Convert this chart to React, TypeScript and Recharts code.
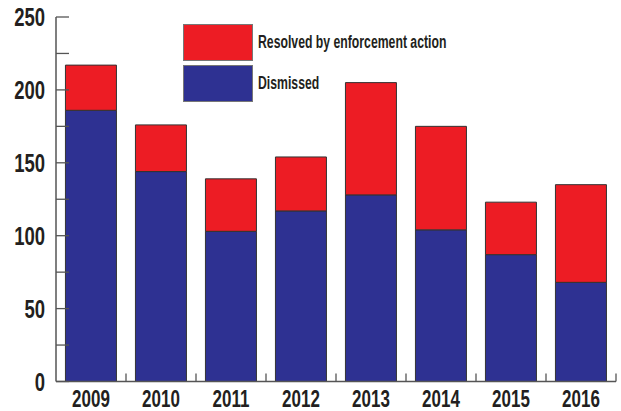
import React from 'react';
import { BarChart, Bar, XAxis, YAxis } from 'recharts';

const YEARS = ['2009', '2010', '2011', '2012', '2013', '2014', '2015', '2016'];
const DISMISSED = [186, 144, 103, 117, 128, 104, 87, 68];
const RESOLVED = [31, 32, 36, 37, 77, 71, 36, 67];
const Y_TICKS = [0, 25, 50, 75, 100, 125, 150, 175, 200, 225, 250];
const LABELED_STEP = 50;
const LEGEND_ITEMS = [
  { key: 'resolved', label: 'Resolved by enforcement action' },
  { key: 'dismissed', label: 'Dismissed' },
];

const RED = '#ed1c24';
const BLUE = '#2e3192';
const AXIS = '#555555';
const TEXT = '#231f20';
const FONT = '"Liberation Sans", Arial, sans-serif';
const SQUEEZE = 0.74;

const W = 621;
const H = 411;
const Y_AXIS_W = 56;
const RIGHT = 5;
const BAND = (W - Y_AXIS_W - RIGHT) / YEARS.length;

const COLORS: Record<string, string> = { resolved: RED, dismissed: BLUE };

const data = YEARS.map((year, i) => ({
  year,
  dismissed: DISMISSED[i],
  resolved: RESOLVED[i],
}));

const YTick = (props: any) => {
  const { x, y, payload } = props;
  const labeled = payload.value % LABELED_STEP === 0;
  return (
    <g>
      <line x1={x} y1={y} x2={x + 13} y2={y} stroke={AXIS} strokeWidth={1.3} />
      {labeled && (
        <text transform={`translate(${x - 11},${y + 9}) scale(${SQUEEZE},1)`} textAnchor="end" fill={TEXT}
          style={{ fontFamily: FONT, fontSize: 25, fontWeight: 700 }}>
          {payload.value}
        </text>
      )}
    </g>
  );
};

const XTick = (props: any) => {
  const { x, y, payload } = props;
  const edge = x + BAND / 2;
  return (
    <g>
      <line x1={edge} y1={y} x2={edge} y2={y - 8} stroke={AXIS} strokeWidth={1.3} />
      <text transform={`translate(${x},${y + 25}) scale(${SQUEEZE},1)`} textAnchor="middle" fill={TEXT}
        style={{ fontFamily: FONT, fontSize: 23, fontWeight: 700 }}>
        {payload.value}
      </text>
    </g>
  );
};

const LegendBox = () => (
  <div style={{ position: 'absolute', left: 183, top: 24 }}>
    {LEGEND_ITEMS.map((it, i) => (
      <div key={it.key} style={{ position: 'absolute', left: 0, top: i * 41, width: 320, height: 37 }}>
        <div style={{ position: 'absolute', left: 0, top: 0, width: 70, height: 37, background: COLORS[it.key], border: '1px solid #777', boxSizing: 'border-box' }} />
        <span style={{ position: 'absolute', left: 75, top: 8, whiteSpace: 'nowrap', transform: 'scale(0.68,1)', transformOrigin: 'left top',
          fontFamily: FONT, fontSize: 18, fontWeight: 700, color: TEXT, lineHeight: '20px' }}>
          {it.label}
        </span>
      </div>
    ))}
  </div>
);

export default function App() {
  return (
    <div style={{ position: 'absolute', left: 0, top: 0, width: W, height: H, background: '#fff' }}>
      <BarChart width={W} height={H} data={data} margin={{ top: 17, right: RIGHT, bottom: 0, left: 0 }}
        barCategoryGap="13.5%">
        <XAxis dataKey="year" height={29.5} tickSize={0} tickMargin={0} tickLine={false}
          axisLine={{ stroke: AXIS, strokeWidth: 1.5 }} tick={<XTick />} interval={0} />
        <YAxis width={Y_AXIS_W} domain={[0, 250]} ticks={Y_TICKS} interval={0} tickSize={0} tickMargin={0}
          tickLine={false} axisLine={{ stroke: AXIS, strokeWidth: 1.5 }} tick={<YTick />} />
        <Bar dataKey="dismissed" stackId="a" fill={BLUE} stroke="#333" strokeWidth={1} isAnimationActive={false} />
        <Bar dataKey="resolved" stackId="a" fill={RED} stroke="#333" strokeWidth={1} isAnimationActive={false} />
      </BarChart>
      <LegendBox />
    </div>
  );
}
